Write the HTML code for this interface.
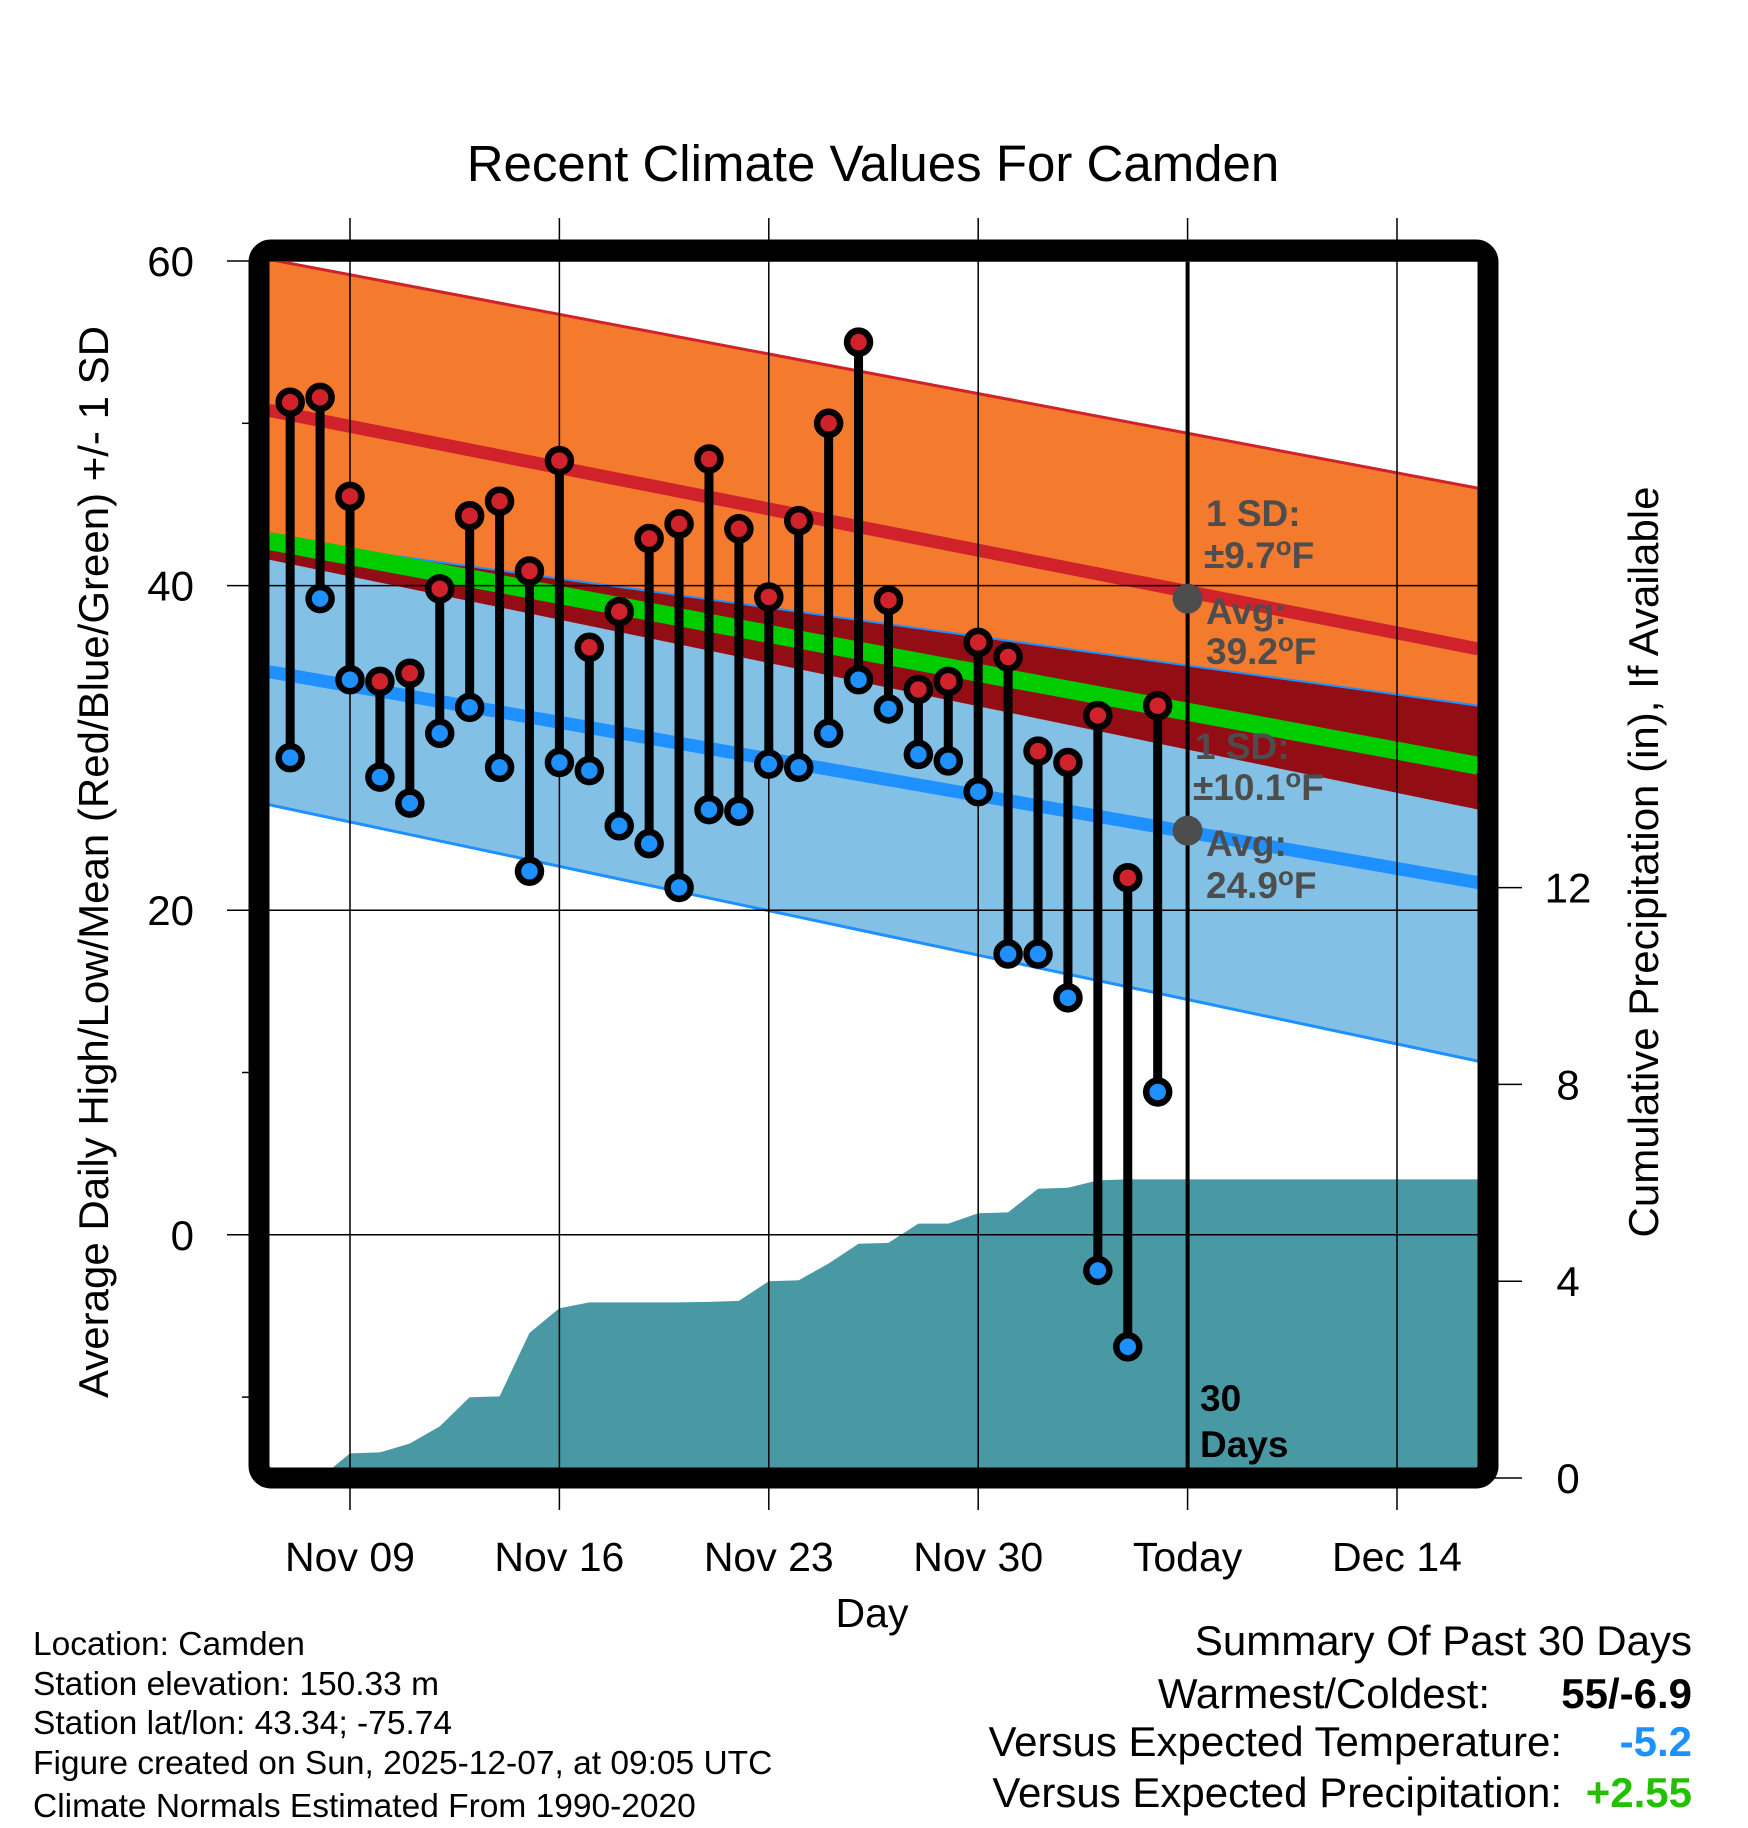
<!DOCTYPE html>
<html><head><meta charset="utf-8">
<style>
html,body{margin:0;padding:0;background:#fff;}
svg{display:block;font-family:"Liberation Sans",sans-serif;}
</style></head>
<body>
<svg id="chart" width="1748" height="1828" viewBox="0 0 1748 1828" xmlns="http://www.w3.org/2000/svg">
<defs><clipPath id="plotclip"><rect x="269" y="262" width="1209" height="1206"/></clipPath></defs>
<text x="873" y="181" font-size="51" text-anchor="middle">Recent Climate Values For Camden</text>
<g id="fills" clip-path="url(#plotclip)"></g>
<g id="grid"></g>
<g id="marks"></g>
<rect x="259" y="250" width="1229" height="1228" rx="12" fill="none" stroke="#000" stroke-width="21"/>
<g id="axes"></g>
<text x="872" y="1627" font-size="41" text-anchor="middle">Day</text>
<text transform="translate(108,862) rotate(-90)" font-size="42" text-anchor="middle">Average Daily High/Low/Mean (Red/Blue/Green) +/- 1 SD</text>
<text transform="translate(1658,862) rotate(-90)" font-size="42" text-anchor="middle">Cumulative Precipitation (in), If Available</text>
<g font-size="33.5">
<text x="33" y="1655">Location: Camden</text>
<text x="33" y="1695">Station elevation: 150.33 m</text>
<text x="33" y="1734">Station lat/lon: 43.34; -75.74</text>
<text x="33" y="1774">Figure created on Sun, 2025-12-07, at 09:05 UTC</text>
<text x="33" y="1817">Climate Normals Estimated From 1990-2020</text>
</g>
<g font-size="42">
<text x="1692" y="1655" text-anchor="end">Summary Of Past 30 Days</text>
<text x="1490" y="1708" text-anchor="end">Warmest/Coldest:</text>
<text x="1692" y="1708" text-anchor="end" font-weight="bold">55/-6.9</text>
<text x="1562" y="1756" text-anchor="end">Versus Expected Temperature:</text>
<text x="1692" y="1756" text-anchor="end" font-weight="bold" fill="#1e90ff">-5.2</text>
<text x="1562" y="1807" text-anchor="end">Versus Expected Precipitation:</text>
<text x="1692" y="1807" text-anchor="end" font-weight="bold" fill="#22c000">+2.55</text>
</g>
<script>
const highs=[51.3,51.6,45.5,34.1,34.6,39.8,44.3,45.2,40.9,47.7,36.2,38.4,42.9,43.8,47.8,43.5,39.3,44.0,50.0,55.0,39.1,33.6,34.1,36.5,35.6,29.8,29.1,32.0,22.0,32.6];
const lows=[29.4,39.2,34.2,28.2,26.6,30.9,32.5,28.8,22.4,29.1,28.6,25.2,24.1,21.4,26.2,26.1,29.0,28.8,30.9,34.2,32.4,29.6,29.2,27.3,17.3,17.3,14.6,-2.2,-6.9,8.8];
const precip=[-0.3,0.0,0.5,0.52,0.7,1.05,1.64,1.66,2.95,3.45,3.57,3.57,3.57,3.57,3.58,3.6,4.0,4.02,4.36,4.76,4.78,5.17,5.17,5.38,5.4,5.88,5.9,6.05,6.07,6.07];
const normLeft={hiUp:60.1,hiAvg:50.8,hiLo:41.6,loUp:42.9,loAvg:34.7,loLo:26.5};
const normRight={hiUp:46.0,hiAvg:36.1,hiLo:26.2,loUp:32.6,loAvg:21.7,loLo:10.7};
const xTickLabels=["Nov 09","Nov 16","Nov 23","Nov 30","Today","Dec 14"];
const xTickDays=[2,9,16,23,30,37];
const yTicks=[60,40,20,0];
const y2Ticks=[0,4,8,12];
const avgHigh=39.2, avgLow=24.9, todayDay=30;

const NS="http://www.w3.org/2000/svg";
const X=d=>350+(d-2)*29.914;
const Y=v=>261+(60-v)*16.23;
const YP=p=>1478-p*49.2;
const D0=-0.71, D1=39.71;
function mk(tag,attrs,parent){const e=document.createElementNS(NS,tag);for(const k in attrs)e.setAttribute(k,attrs[k]);parent.appendChild(e);return e;}
const fills=document.getElementById('fills'),grid=document.getElementById('grid'),marks=document.getElementById('marks'),axes=document.getElementById('axes');
function band(a,b,color,name){
  const p=`${X(D0)},${Y(normLeft[a])} ${X(D1)},${Y(normRight[a])} ${X(D1)},${Y(normRight[b])} ${X(D0)},${Y(normLeft[b])}`;
  const e=mk('polygon',{points:p,fill:color},fills);
  
  
}
function line(k,color,w,name){
  const e=mk('line',{x1:X(D0),y1:Y(normLeft[k]),x2:X(D1),y2:Y(normRight[k]),stroke:color,'stroke-width':w},fills);
  
  
}
let pp=`${X(D0)},1470 `;
precip.forEach((p,i)=>{pp+=`${X(i)},${YP(p)} `;});
pp+=`${X(D1)},${YP(precip[precip.length-1])} ${X(D1)},1470`;
band('hiUp','hiLo','#f47a2e','high-sd-band');
band('loUp','loLo','#82c0e6','low-sd-band');
band('loUp','hiLo','#920d14','overlap-band');
line('hiUp','#d0222a',3,'high-upper-sd-line');
line('loUp','#1e90ff',2,'low-upper-sd-line');
line('loLo','#1e90ff',3,'low-lower-sd-line');
line('hiAvg','#d0222a',13,'high-normal-line');
line('loAvg','#1e90ff',13,'low-normal-line');
{const e=mk('line',{x1:X(D0),y1:Y((normLeft.hiAvg+normLeft.loAvg)/2),x2:X(D1),y2:Y((normRight.hiAvg+normRight.loAvg)/2),stroke:'#00cc00','stroke-width':18},fills);

}
{const e=mk('polygon',{points:pp,fill:'#4899a3'},fills);

}
xTickDays.forEach((d,i)=>{
  const g=mk('line',{x1:X(d),y1:218,x2:X(d),y2:1510,stroke:'#000','stroke-width':1.5},grid);
  
  
  const t=mk('text',{x:X(d),y:1571,'font-size':41,'text-anchor':'middle'},axes);
  t.textContent=xTickLabels[i];
  
  
});
yTicks.forEach(v=>{
  const g=mk('line',{x1:227,y1:Y(v),x2:1478,y2:Y(v),stroke:'#000','stroke-width':1.5},grid);
  
  
  const t=mk('text',{x:194,y:Y(v)+15,'font-size':42,'text-anchor':'end'},axes);
  t.textContent=v;
  
  
});
[50,10,-10].forEach(v=>{
  const g=mk('line',{x1:242,y1:Y(v),x2:254,y2:Y(v),stroke:'#000','stroke-width':1.5},axes);
  
  
});
y2Ticks.forEach(p=>{
  const g=mk('line',{x1:1494,y1:YP(p),x2:1522,y2:YP(p),stroke:'#000','stroke-width':1.5},axes);
  
  
  const t=mk('text',{x:1568,y:YP(p)+15,'font-size':42,'text-anchor':'middle'},axes);
  t.textContent=p;
  
  
});
{const e=mk('line',{x1:X(todayDay),y1:262,x2:X(todayDay),y2:1468,stroke:'#000','stroke-width':4},marks);

}
highs.forEach((h,i)=>{
  const s=mk('line',{x1:X(i),y1:Y(h),x2:X(i),y2:Y(lows[i]),stroke:'#000','stroke-width':9},marks);
  
  
});
highs.forEach((h,i)=>{
  const c=mk('circle',{cx:X(i),cy:Y(h),r:11.5,fill:'#d0222a',stroke:'#000','stroke-width':6.5},marks);
  
  
  const c2=mk('circle',{cx:X(i),cy:Y(lows[i]),r:11.5,fill:'#1e90ff',stroke:'#000','stroke-width':6.5},marks);
  
  
});
[avgHigh,avgLow].forEach(v=>{
  const c=mk('circle',{cx:X(todayDay),cy:Y(v),r:15,fill:'#4d4d4d'},marks);
  
  
});
function lbl(x,y,txt,deg,col,name){
  const t=mk('text',{x:x,y:y,'font-size':37,'font-weight':'bold',fill:col},marks);
  
  
  const a=document.createElementNS(NS,'tspan');a.textContent=txt;t.appendChild(a);
  if(deg){
    const b=mk('tspan',{dy:-13,'font-size':26},t);b.textContent='o';
    const c=mk('tspan',{dy:13},t);c.textContent='F';
  }
}
lbl(1206,526,'1 SD:',false,'#4d4d4d','high-sd-label');
lbl(1204,568,'±9.7',true,'#4d4d4d','high-sd-value');
lbl(1206,624,'Avg:',false,'#4d4d4d','high-avg-label');
lbl(1206,664,'39.2',true,'#4d4d4d','high-avg-value');
lbl(1195,759,'1 SD:',false,'#4d4d4d','low-sd-label');
lbl(1193,800,'±10.1',true,'#4d4d4d','low-sd-value');
lbl(1206,856,'Avg:',false,'#4d4d4d','low-avg-label');
lbl(1206,898,'24.9',true,'#4d4d4d','low-avg-value');
lbl(1200,1411,'30',false,'#000','days-count-label');
lbl(1200,1457,'Days',false,'#000','days-label');
</script>
</svg>
</body></html>
